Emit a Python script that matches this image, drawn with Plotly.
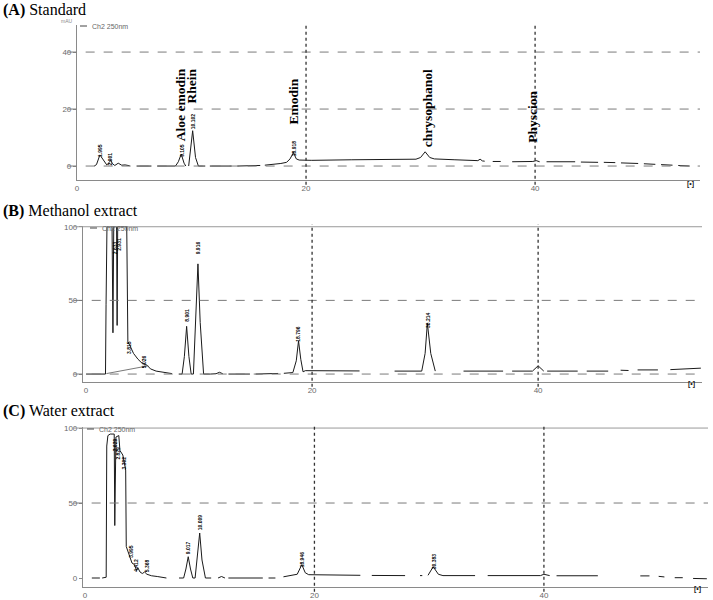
import plotly.graph_objects as go

W, H = 713, 600

# ---------------- data (retention time in min, absorbance mAU) ----------------
# None marks a break in the recorded trace
A_time = [1.5, 1.7, 2.0, 2.3, 2.6, 2.8, 2.95, 3.1, 3.3, 3.6, 3.9, 4.2, 4.6, None,
          5.2, 6.5, None, 7.0, 8.6, 8.85, 9.1, 9.35, 9.5, None,
          9.75, 9.9, 10.1, 10.35, 10.6, 11.2, None, 11.6, 13.5, None, 14.0, 16.0, None,
          16.4, 17.2, 17.8, 18.3, 18.6, 18.9, 19.15, 19.4, 20.5, 24.0, 27.0,
          29.6, 30.0, 30.4, 30.8, 31.2, 33.0, 35.0, 35.2, 35.4, 35.6, None,
          36.3, 37.0, None, 38.0, 39.5, 39.8, 40.1, 40.4, None, 41.0, 43.5, None,
          44.0, 45.5, None, 46.0, 47.0, None, 47.5, 49.0, None, 49.5, 50.5, None,
          51.0, 52.0, None, 52.5, 53.5]
A_mau = [0, 0.5, 3.9, 2.0, 0.4, 1.2, 2.0, 0.8, 0.2, 1.0, 0.3, 0.4, 0.1, None,
         0, 0, None, 0, 0, 1.5, 4.2, 1.0, 0, None,
         0, 5.0, 12.4, 3.0, 0, 0, None, 0, 0, None, 0, 0.2, None,
         0.3, 0.6, 0.9, 1.3, 2.5, 4.7, 2.5, 2.1, 2.0, 2.2, 2.3,
         2.4, 3.0, 5.0, 3.0, 2.5, 2.2, 1.9, 2.4, 1.8, 1.7, None,
         1.6, 1.6, None, 1.5, 1.5, 1.6, 1.9, 1.5, None, 1.5, 1.5, None,
         1.4, 1.3, None, 1.3, 1.2, None, 1.1, 0.9, None, 0.8, 0.6, None,
         0.5, 0.3, None, 0.2, 0.0]

B_time = [0, 1.72, 1.77, 1.85, 2.3, 2.38, 2.45, 2.7, 2.75, 2.8, 3.6, 3.7, 3.9, 4.2,
          4.6, 5.0, 5.4, 5.7, 6.2, 7.0, 7.6, None, 8.2, 8.5, 8.7, 8.9, 9.1, 9.3,
          9.5, 9.7, 9.9, 10.1, 10.4, 11.0, 11.5, 11.8, 12.1, None, 12.6, 14.5, None,
          15.0, 17.0, None, 17.5, 18.3, 18.6, 18.8, 19.0, 19.2, 19.4, 24.2, None,
          27.3, 29.7, 30.0, 30.2, 30.5, 30.9, None, 33.4, 36.9, None,
          37.7, 39.5, 40.0, 40.5, None, 40.8, 43.5, None, 44.3, 46.2, None,
          47.3, 48.0, None, 48.8, 50.6, None, 51.7, 53.0, 54.4]
B_mau = [0, 0, 47, 100, 100, 28, 100, 100, 33, 100, 100, 22, 19, 14,
         10, 7, 6, 3.5, 2, 0.8, 0.3, None, 0, 0, 12, 32.4, 12, 0,
         0, 35, 74.8, 35, 0, 0, 0.2, 1.2, 0.2, None, 0, 0, None,
         0, 0.4, None, 0.5, 1.0, 9, 22.5, 10, 1.5, 2.3, 2.1, None,
         2.0, 2.0, 14, 34.5, 14, 2.0, None, 2.0, 2.0, None,
         2.0, 2.0, 5.6, 2.0, None, 2.0, 2.0, None, 2.0, 2.0, None,
         2.6, 2.4, None, 2.8, 2.8, None, 3.0, 3.4, 4.0]
# integration baseline drawn under the early cluster
B_base_time = [1.8, 5.5]
B_base_mau = [0.3, 5.6]

C_time = [0.6, 1.3, None, 1.5, 1.85, 1.9, 2.0, 2.2, 2.55, 2.6, 2.7, 2.95, 3.05, 3.3,
          3.45, 3.55, 3.6, 3.8, 3.95, 4.1, 4.3, 4.5, 4.6, 4.8, 5.0, 5.2, 5.4, 5.8,
          6.3, 7.1, None, 8.2, 8.6, 8.8, 9.0, 9.2, 9.4, 9.6, 9.8, 10.0, 10.2, 10.5,
          11.0, None, 11.6, 11.9, 12.2, None, 12.5, 15.5, None, 16.0, 16.6, None,
          17.3, 18.0, 18.5, 18.9, 19.2, 19.5, 24.0, None, 25.0, 27.9, None,
          29.2, 29.4, None, 29.9, 30.35, 30.8, 31.2, 34.0, None, 35.1, 39.7, 40.0,
          40.5, None, 41.1, 44.7, None, 48.4, 49.2, None, 50.0, 50.5, None,
          51.4, 52.1, None, 53.0, 54.2]
C_mau = [0, 0, None, 0, 0.5, 88, 95, 96, 96, 35, 94, 95, 85, 82,
         75, 72, 21, 17, 13, 10, 9, 5, 7, 4, 3, 4, 2.5, 1.5,
         1.0, 0, None, 0, 0, 6, 14.2, 6, 0, 0, 14, 30, 12, 0,
         0, None, 0, 1.0, 0, None, 0, 0, None, 0, 0, None,
         0.8, 1.5, 2.5, 8.9, 3.5, 2.2, 1.8, None, 1.7, 1.6, None,
         1.6, 1.6, None, 1.8, 7.5, 2.5, 1.6, 1.6, None, 1.6, 1.6, 2.5,
         1.6, None, 1.5, 1.5, None, 1.4, 1.4, None, 1.1, 0.7, None,
         0.2, 0.2, None, -0.3, -0.5]

# compound names (panel A) : (name, retention time, label centre mAU)
A_names = ["Aloe emodin", "Rhein", "Emodin", "chrysophanol", "Physcion"]
A_name_rt = [9.0, 10.0, 18.9, 30.6, 39.7]
A_name_y = [21.4, 28.1, 22.8, 20.4, 17.2]

# small retention-time labels printed by the integrator
A_rt_text = ["1.995", "2.901", "9.105", "10.102", "18.918"]
A_rt_x = [2.0, 2.9, 9.1, 10.1, 18.9]
A_rt_y = [5.6, 2.4, 5.4, 15.6, 6.4]

B_rt_text = ["2.633", "2.931", "3.815", "5.026", "8.901", "9.916", "18.796", "30.214"]
B_rt_x = [2.55, 2.95, 3.75, 5.1, 8.9, 9.9, 18.8, 30.2]
B_rt_y = [86, 88, 18, 8.5, 40, 86, 27, 37]

C_rt_text = ["2.629", "2.829", "3.302", "3.995", "4.412", "5.368", "9.017", "10.009", "18.946", "30.383"]
C_rt_x = [2.6, 2.8, 3.4, 4.0, 4.5, 5.4, 9.0, 10.0, 18.95, 30.4]
C_rt_y = [89, 83, 77, 18, 8.5, 8.5, 20, 37, 12.7, 11]

grid_A = [0, 20, 40]
grid_B = [0, 50]
grid_C = [50]
vlines = [20, 40]
x_ticks = [0, 20, 40]
yt_A = [0, 20, 40]
yt_BC = [0, 50, 100]

# ---------------- figure ----------------
def px_x(p):
    return p / W

def px_y(p):
    return 1 - p / H

fig = go.Figure()
line_style = dict(color="#1a1a1a", width=1)
fig.add_trace(go.Scatter(x=A_time, y=A_mau, mode="lines", line=line_style,
                         xaxis="x", yaxis="y", connectgaps=False, showlegend=False))
fig.add_trace(go.Scatter(x=B_time, y=B_mau, mode="lines", line=line_style,
                         xaxis="x2", yaxis="y2", connectgaps=False, showlegend=False))
fig.add_trace(go.Scatter(x=B_base_time, y=B_base_mau, mode="lines",
                         line=dict(color="#555", width=0.8),
                         xaxis="x2", yaxis="y2", showlegend=False))
fig.add_trace(go.Scatter(x=C_time, y=C_mau, mode="lines", line=line_style,
                         xaxis="x3", yaxis="y3", connectgaps=False, showlegend=False))

tickfont = dict(family="Liberation Sans, Arial", size=8, color="#6a6a6a")
axis_common = dict(showline=True, linecolor="#8a8a8a", linewidth=1.2, showgrid=False,
                   zeroline=False, ticks="outside", ticklen=3, tickcolor="#8a8a8a",
                   tickfont=tickfont, fixedrange=True, automargin=False)

# pixel geometry of each panel: left, right, top, bottom
panels = {
    "": dict(l=77, r=700, t=25, b=180, xr=[0, 54.4], yr=[-4.9, 49.5], yt=yt_A),
    "2": dict(l=83, r=702, t=226, b=382, xr=[-0.27, 54.5], yr=[-5.4, 100.5], yt=yt_BC),
    "3": dict(l=83, r=708, t=427, b=587, xr=[-0.17, 54.3], yr=[-6, 100.7], yt=yt_BC),
}
lay = {}
for k, p in panels.items():
    lay["xaxis" + k] = dict(axis_common, domain=[px_x(p["l"]), px_x(p["r"])],
                            range=p["xr"], anchor="y" + k, tickvals=x_ticks,
                            ticks="", ticklabelstandoff=0)
    lay["yaxis" + k] = dict(axis_common, domain=[px_y(p["b"]), px_y(p["t"])],
                            range=p["yr"], anchor="x" + k, tickvals=p["yt"])

shapes = []
def hgrid(vals, k, dash="dash", color="#7a7a7a"):
    for v in vals:
        shapes.append(dict(type="line", xref=f"x{k} domain", yref=f"y{k}",
                           x0=-0.015, x1=1, y0=v, y1=v,
                           line=dict(color=color, width=1, dash=dash)))

hgrid(grid_A, "")
hgrid(grid_B, "2")
hgrid(grid_C, "3")
hgrid([100], "2", dash="solid", color="#9a9a9a")
hgrid([100], "3", dash="solid", color="#9a9a9a")
for k in ["", "2", "3"]:
    for v in vlines:
        shapes.append(dict(type="line", xref=f"x{k}", yref=f"y{k} domain",
                           x0=v, x1=v, y0=-0.03, y1=1.01,
                           line=dict(color="#333", width=1.3, dash="dot")))

ann = []
serif = "Liberation Serif, Times New Roman, serif"
for txt, yp in [("<b>(A)</b> Standard", 10), ("<b>(B)</b> Methanol extract", 211),
                ("<b>(C)</b> Water extract", 411)]:
    ann.append(dict(text=txt, xref="paper", yref="paper", x=px_x(1), y=px_y(yp),
                    xanchor="left", yanchor="middle", showarrow=False,
                    font=dict(family=serif, size=16, color="black")))

for name, x, y in zip(A_names, A_name_rt, A_name_y):
    ann.append(dict(text=f"<b>{name}</b>", x=x, y=y, xref="x", yref="y",
                    textangle=-90, showarrow=False,
                    font=dict(family=serif, size=13.5, color="black")))

def rt_labels(texts, xs, ys, k):
    for t, x, y in zip(texts, xs, ys):
        ann.append(dict(text=f"<b>{t}</b>", x=x, y=y, xref=f"x{k}", yref=f"y{k}",
                        textangle=-90, showarrow=False,
                        font=dict(family="Liberation Sans, Arial", size=5, color="black")))

rt_labels(A_rt_text, A_rt_x, A_rt_y, "")
rt_labels(B_rt_text, B_rt_x, B_rt_y, "2")
rt_labels(C_rt_text, C_rt_x, C_rt_y, "3")

small = dict(family="Liberation Sans, Arial", size=7, color="#666")
for xp, yp in [(90, 26), (100, 228), (97, 429)]:
    ann.append(dict(text="Ch2 250nm", xref="paper", yref="paper", x=px_x(xp), y=px_y(yp),
                    xanchor="left", yanchor="middle", showarrow=False, font=small))
    shapes.append(dict(type="line", xref="paper", yref="paper",
                       x0=px_x(xp - 10), x1=px_x(xp - 3), y0=px_y(yp), y1=px_y(yp),
                       line=dict(color="#444", width=1)))
ann.append(dict(text="mAU", xref="paper", yref="paper", x=px_x(67), y=px_y(21),
                xanchor="center", yanchor="middle", showarrow=False,
                font=dict(family="Liberation Sans, Arial", size=5, color="#888")))
for xp, yp in [(690, 184), (691, 384), (697, 589)]:
    ann.append(dict(text="<b>[•]</b>", xref="paper", yref="paper", x=px_x(xp), y=px_y(yp),
                    xanchor="center", yanchor="middle", showarrow=False,
                    font=dict(family="Liberation Sans, Arial", size=7, color="#222")))

fig.update_layout(width=W, height=H, margin=dict(l=0, r=0, t=0, b=0),
                  paper_bgcolor="white", plot_bgcolor="white",
                  shapes=shapes, annotations=ann, showlegend=False, **lay)
fig.write_html("out.html", config={"displayModeBar": False},
               post_script="document.body.style.margin='0';document.body.style.overflow='hidden';")
